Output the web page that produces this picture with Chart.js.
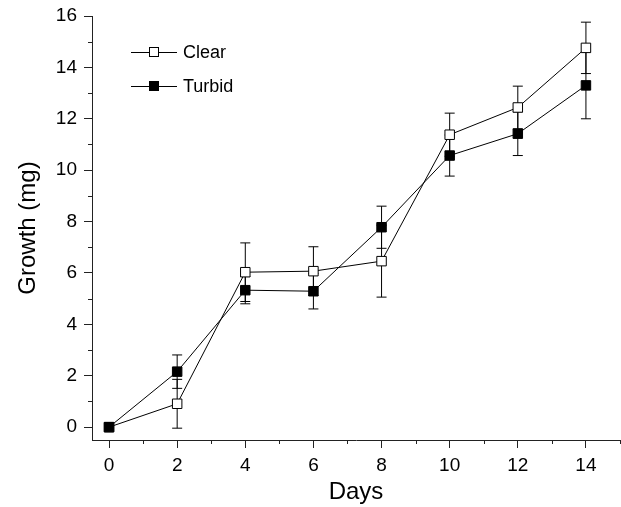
<!DOCTYPE html>
<html><head><meta charset="utf-8">
<script src="https://cdn.jsdelivr.net/npm/chart.js@4.4.0/dist/chart.umd.min.js"></script>
<style>html,body{margin:0;padding:0;background:#fff;}</style>
</head><body>
<canvas id="c" width="621" height="507"></canvas>
<script>
const days = [0, 2, 4, 6, 8, 10, 12, 14];
const clearMean = [0, 0.91, 6.03, 6.07, 6.46, 11.38, 12.44, 14.76];
const clearErr = [0, 0.95, 1.14, 0.95, 1.4, 0.84, 0.83, 1.0];
const turbidMean = [0, 2.16, 5.33, 5.29, 7.78, 10.57, 11.42, 13.3];
const turbidErr = [0, 0.65, 0.53, 0.69, 0.82, 0.8, 0.85, 1.3];
const xTicks = [0, 2, 4, 6, 8, 10, 12, 14];
const yTicks = [0, 2, 4, 6, 8, 10, 12, 14, 16];
const xMinor = [1, 3, 5, 7, 9, 11, 13, 15];
const yMinor = [1, 3, 5, 7, 9, 11, 13, 15];

const FONT = 'Liberation Sans, Arial, Helvetica, sans-serif';
const AXIS = '#222';

const errorBars = {
  id: 'errorBars',
  beforeDatasetsDraw(chart) {
    const ctx = chart.ctx, xs = chart.scales.x, ys = chart.scales.y;
    ctx.save();
    ctx.strokeStyle = '#000';
    ctx.lineWidth = 1;
    chart.data.datasets.forEach(ds => {
      ds.data.forEach((p, i) => {
        const e = ds.errors[i];
        if (!e) return;
        const x = xs.getPixelForValue(p.x);
        const y1 = ys.getPixelForValue(p.y + e);
        const y2 = ys.getPixelForValue(p.y - e);
        ctx.beginPath();
        ctx.moveTo(x, y1); ctx.lineTo(x, y2);
        ctx.moveTo(x - 5, y1); ctx.lineTo(x + 5, y1);
        ctx.moveTo(x - 5, y2); ctx.lineTo(x + 5, y2);
        ctx.stroke();
      });
    });
    ctx.restore();
  }
};

const minorTicks = {
  id: 'minorTicks',
  afterDraw(chart) {
    const ctx = chart.ctx, xs = chart.scales.x, ys = chart.scales.y, a = chart.chartArea;
    ctx.save();
    ctx.strokeStyle = AXIS;
    ctx.lineWidth = 1;
    ctx.beginPath();
    xMinor.forEach(v => {
      const x = Math.round(xs.getPixelForValue(v)) + 0.5;
      ctx.moveTo(x, a.bottom); ctx.lineTo(x, a.bottom + 4);
    });
    yMinor.forEach(v => {
      const y = Math.round(ys.getPixelForValue(v)) + 0.5;
      ctx.moveTo(a.left - 4, y); ctx.lineTo(a.left, y);
    });
    ctx.stroke();
    ctx.restore();
  }
};

const innerLegend = {
  id: 'innerLegend',
  afterDraw(chart) {
    const ctx = chart.ctx;
    const rows = [52, 86];
    ctx.save();
    chart.data.datasets.slice().sort((a, b) => a.legendRank - b.legendRank).forEach((ds, k) => {
      const y = rows[k];
      ctx.strokeStyle = '#000';
      ctx.lineWidth = 1;
      ctx.beginPath();
      ctx.moveTo(131, y + 0.5); ctx.lineTo(177, y + 0.5);
      ctx.stroke();
      ctx.fillStyle = ds.pointBackgroundColor;
      ctx.fillRect(149.5, y - 4.5, 9, 9);
      ctx.strokeRect(149.5, y - 4.5, 9, 9);
      ctx.fillStyle = '#000';
      ctx.font = '18px ' + FONT;
      ctx.textBaseline = 'middle';
      ctx.fillText(ds.label, 183, y + 1);
    });
    ctx.restore();
  }
};

const mk = (xsArr, ysArr) => xsArr.map((x, i) => ({ x: x, y: ysArr[i] }));

new Chart(document.getElementById('c'), {
  type: 'line',
  data: {
    datasets: [
      {
        label: 'Clear', legendRank: 0, order: 2,
        data: mk(days, clearMean), errors: clearErr,
        borderColor: '#000', borderWidth: 1,
        pointStyle: 'rect', pointRadius: 6.7, pointBorderWidth: 1,
        pointBackgroundColor: '#fff', pointBorderColor: '#000',
        fill: false, tension: 0
      },
      {
        label: 'Turbid', legendRank: 1, order: 1,
        data: mk(days, turbidMean), errors: turbidErr,
        borderColor: '#000', borderWidth: 1,
        pointStyle: 'rect', pointRadius: 6.7, pointBorderWidth: 1,
        pointBackgroundColor: '#000', pointBorderColor: '#000',
        fill: false, tension: 0
      }
    ]
  },
  options: {
    responsive: false,
    animation: false,
    events: [],
    layout: { autoPadding: false, padding: { left: 0, right: 1, top: 16, bottom: 0 } },
    plugins: { legend: { display: false }, tooltip: { enabled: false } },
    scales: {
      x: {
        type: 'linear', min: -0.5, max: 15,
        afterBuildTicks: s => { s.ticks = xTicks.map(v => ({ value: v })); },
        afterFit: s => { s.height = 67; s.paddingLeft = 0; s.paddingRight = 0; },
        grid: { drawOnChartArea: false, drawTicks: true, tickLength: 8, tickColor: AXIS, lineWidth: 1 },
        border: { display: true, color: AXIS, width: 1 },
        ticks: { font: { family: FONT, size: 19 }, color: '#000', padding: 6, maxRotation: 0, autoSkip: false },
        title: { display: true, text: 'Days', font: { family: FONT, size: 24 }, color: '#000', padding: { top: 0, bottom: 0 } }
      },
      y: {
        type: 'linear', min: -0.5, max: 16,
        afterBuildTicks: s => { s.ticks = yTicks.map(v => ({ value: v })); },
        afterFit: s => { s.width = 92; s.paddingTop = 0; s.paddingBottom = 0; },
        grid: { drawOnChartArea: false, drawTicks: true, tickLength: 8, tickColor: AXIS, lineWidth: 1 },
        border: { display: true, color: AXIS, width: 1 },
        ticks: { font: { family: FONT, size: 19 }, color: '#000', padding: 7, autoSkip: false },
        title: { display: true, text: 'Growth (mg)', font: { family: FONT, size: 24 }, color: '#000', padding: { top: 14, bottom: 0 } }
      }
    }
  },
  plugins: [errorBars, minorTicks, innerLegend]
});
</script>
</body></html>
